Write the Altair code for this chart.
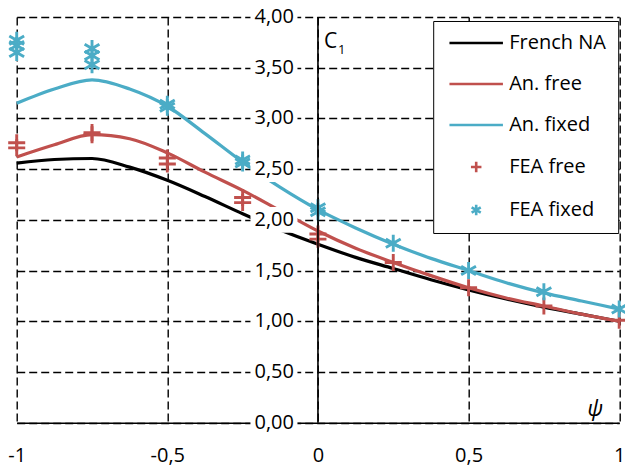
import altair as alt
import pandas as pd

# ---- data ----
series_names = ["French NA", "An. free", "An. fixed", "FEA free", "FEA fixed"]
series_colors = ["#000000", "#C0504D", "#4BACC6", "#C0504D", "#4BACC6"]

psi_curve = [-1, -0.875, -0.75, -0.625, -0.5, -0.375, -0.25, -0.125, 0,
             0.125, 0.25, 0.375, 0.5, 0.625, 0.75, 0.875, 1]
french_na = [2.56, 2.595, 2.605, 2.52, 2.39, 2.23, 2.06, 1.90, 1.76,
             1.63, 1.52, 1.41, 1.31, 1.22, 1.14, 1.07, 1.00]
an_free = [2.62, 2.74, 2.84, 2.80, 2.66, 2.47, 2.29, 2.09, 1.89,
           1.72, 1.58, 1.45, 1.33, 1.23, 1.15, 1.07, 1.00]
an_fixed = [3.15, 3.29, 3.38, 3.29, 3.12, 2.85, 2.57, 2.32, 2.10,
            1.92, 1.76, 1.62, 1.50, 1.38, 1.28, 1.20, 1.12]

fea_free_psi = [-1, -1, -0.75, -0.75, -0.5, -0.5, -0.25, -0.25, 0, 0, 0.25, 0.5, 0.75, 1]
fea_free = [2.76, 2.71, 2.86, 2.84, 2.61, 2.55, 2.22, 2.17, 1.86, 1.81, 1.58, 1.33, 1.15, 1.01]
fea_fixed_psi = [-1, -1, -1, -0.75, -0.75, -0.75, -0.5, -0.5, -0.25, -0.25, 0, 0, 0.25, 0.5, 0.75, 1]
fea_fixed = [3.77, 3.72, 3.65, 3.69, 3.62, 3.53, 3.14, 3.11, 2.59, 2.56, 2.12, 2.08, 1.77, 1.50, 1.29, 1.12]

x_ticks = [-1, -0.5, 0, 0.5, 1]
y_ticks = [0, 0.5, 1, 1.5, 2, 2.5, 3, 3.5, 4]

# ---- tables ----
curves = pd.concat([
    pd.DataFrame({"psi": psi_curve, "val": french_na, "series": "French NA"}),
    pd.DataFrame({"psi": psi_curve, "val": an_free, "series": "An. free"}),
    pd.DataFrame({"psi": psi_curve, "val": an_fixed, "series": "An. fixed"}),
])
fea = pd.concat([
    pd.DataFrame({"psi": fea_free_psi, "val": fea_free, "series": "FEA free"}),
    pd.DataFrame({"psi": fea_fixed_psi, "val": fea_fixed, "series": "FEA fixed"}),
])
yt = pd.DataFrame({"v": y_ticks})
one = pd.DataFrame({"k": [0]})

LINE = "M-5.1,0H5.1"
PLUS = "M-1,0H1M0,-1V1"
STAR = "M0,-1V1M-0.87,-0.5L0.87,0.5M-0.87,0.5L0.87,-0.5"
shape_range = [LINE, LINE, LINE, PLUS, STAR]

FONT = "Open Sans"
PLOT_W = 602.5
PLOT_H = 405.7

xs = alt.Scale(domain=[-1, 1], nice=False, zero=False)
ys = alt.Scale(domain=[0, 4], nice=False)

x_enc = alt.X("psi:Q", scale=xs, title=None,
              axis=alt.Axis(values=x_ticks,
                            labelExpr="replace(toString(datum.value), '.', ',')",
                            grid=True, gridDash=[8, 4], gridColor="black", gridWidth=1.4,
                            gridOpacity=1, domainColor="black", domainWidth=1.6,
                            ticks=False, labelFontSize=20, labelFont=FONT,
                            labelColor="black", labelPadding=23, labelFlush=False,
                            labelOverlap=False))
y_enc = alt.Y("val:Q", scale=ys, title=None,
              axis=alt.Axis(values=y_ticks, labels=False, ticks=False, domain=False,
                            grid=True, gridDash=[8, 4], gridColor="black",
                            gridWidth=1.4, gridOpacity=1))

legend_labels = "datum.label + '   '"
color_enc = alt.Color("series:N",
                      scale=alt.Scale(domain=series_names, range=series_colors),
                      legend=alt.Legend(title=None, labelExpr=legend_labels))
shape_enc = alt.Shape("series:N",
                      scale=alt.Scale(domain=series_names, range=shape_range),
                      legend=alt.Legend(title=None, labelExpr=legend_labels))

lines = alt.Chart(curves).mark_line(strokeWidth=3.2, interpolate="monotone").encode(
    x=x_enc, y=y_enc, color=color_enc, detail="series:N")

points = alt.Chart(fea).mark_point(size=290, strokeWidth=2.9, filled=False, opacity=1).encode(
    x="psi:Q", y="val:Q", color=color_enc, shape=shape_enc)

label_bg = alt.Chart(yt).mark_point(
    shape="M-1,-0.55H1V0.55H-1Z", size=47 * 47, filled=True, fill="white",
    opacity=1, strokeWidth=0, xOffset=-44).encode(
    x=alt.datum(0), y=alt.Y("v:Q", scale=ys))

label_txt = alt.Chart(yt).transform_calculate(
    lab="replace(format(datum.v, '.2f'), '.', ',')"
).mark_text(align="right", baseline="middle", dx=-24, font=FONT, fontSize=20,
            color="black").encode(
    x=alt.datum(0), y=alt.Y("v:Q", scale=ys), text="lab:N")

y_axis_line = alt.Chart(one).mark_rule(color="black", strokeWidth=1.6).encode(
    x=alt.datum(0), y=alt.datum(0), y2=alt.datum(4))

c_lab = alt.Chart(one).mark_text(align="left", baseline="middle", dx=6, font=FONT,
                                 fontSize=21, color="black").encode(
    x=alt.datum(0), y=alt.value(25), text=alt.value("C"))
c_sub = alt.Chart(one).mark_text(align="left", baseline="middle", dx=20, font=FONT,
                                 fontSize=13, color="black").encode(
    x=alt.datum(0), y=alt.value(33), text=alt.value("1"))
psi_lab = alt.Chart(one).mark_text(align="center", baseline="middle", dx=-24, dy=-14,
                                   font=FONT, fontSize=22, fontStyle="italic",
                                   color="black").encode(
    x=alt.datum(1), y=alt.datum(0), text=alt.value("ψ"))

chart = alt.layer(
    lines, points, label_bg, label_txt, y_axis_line, c_lab, c_sub, psi_lab
).resolve_scale(color="shared", shape="shared").properties(
    width=PLOT_W, height=PLOT_H,
    padding={"left": 8.7, "top": 9, "right": 5.8, "bottom": 48},
    autosize=alt.AutoSizeParams(type="none"),
).configure_view(stroke=None).configure_legend(
    orient="none", legendX=PLOT_W - 186, legendY=4,
    strokeColor="black", fillColor="white", padding=12,
    labelFont=FONT, labelFontSize=20, labelColor="black",
    symbolSize=110, symbolStrokeWidth=2.6, symbolOffset=21,
    labelOffset=23, rowPadding=21, symbolOpacity=1,
)

chart.save("out.html", embed_options={"renderer": "svg", "actions": False})
